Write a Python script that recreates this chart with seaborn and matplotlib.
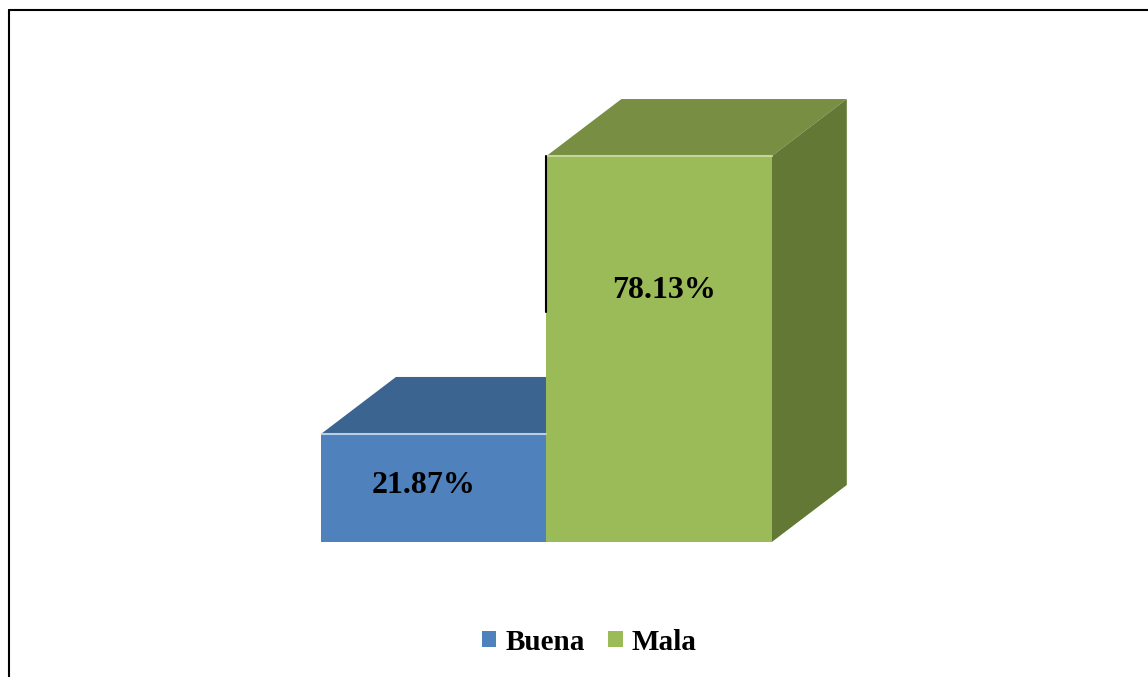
import matplotlib
matplotlib.use("Agg")
import matplotlib.pyplot as plt
from matplotlib.patches import Polygon, Patch
from matplotlib.lines import Line2D
import seaborn as sns
import pandas as pd

categories = ["Buena", "Mala"]
values = [21.87, 78.13]
labels = ["21.87%", "78.13%"]
front_colors = ["#4F81BD", "#9BBB59"]
top_colors = ["#3C6490", "#778E43"]
side_colors = ["#3A5E87", "#647836"]
edge_colors = ["#B9CDE5", "#C3D69B"]

sns.set_theme(style="white")
plt.rcParams["font.family"] = ["Liberation Serif", "DejaVu Serif"]
plt.rcParams["text.color"] = "black"

df = pd.DataFrame({"cat": categories, "val": values})

fig = plt.figure(figsize=(11.48, 6.77), dpi=100)
ax = fig.add_axes([321 / 1148, 135 / 677, 541 / 1148, 444.6 / 677])

sns.barplot(data=df, x="cat", y="val", hue="cat", palette=front_colors,
            saturation=1, width=1.0, legend=False, ax=ax, linewidth=0, zorder=2)

ax.set_xlim(-0.5, 1.9)
ax.set_ylim(0, 90)
ax.axis("off")

# depth offset of the 3D effect (data units)
dx = 75 / 225.5
dy = 57 / 4.94

label_pos = [(-0.045, 11.4), (0.02, 51.0)]
for i, v in enumerate(values):
    x0, x1 = i - 0.5, i + 0.5
    top = Polygon([(x0, v), (x1, v), (x1 + dx, v + dy), (x0 + dx, v + dy)],
                  closed=True, facecolor=top_colors[i], edgecolor="none", zorder=1)
    ax.add_patch(top)
    side = Polygon([(x1, 0), (x1 + dx, dy), (x1 + dx, v + dy), (x1, v)],
                   closed=True, facecolor=side_colors[i], edgecolor="none", zorder=1)
    ax.add_patch(side)
    ax.plot([x0, x1], [v, v], color=edge_colors[i], lw=1.5, zorder=3)
    lx, ly = label_pos[i]
    ax.text(i + lx, ly, labels[i], ha="center", va="center",
            fontsize=23, fontweight="bold", color="black", zorder=4)

# thin dark line on the left edge of the taller bar
ax.plot([0.5, 0.5], [46.6, values[1]], color="black", lw=1.5, zorder=3)

handles = [Patch(facecolor=c, edgecolor="none") for c in front_colors]
fig.legend(handles, categories, loc="center", bbox_to_anchor=(589 / 1148, 1 - 642 / 677),
           ncol=2, frameon=False, handlelength=0.5, handleheight=0.5,
           handletextpad=0.3, columnspacing=0.8, labelcolor="black",
           prop={"family": "Liberation Serif", "weight": "bold", "size": 21})

# figure border (left and top)
fig.add_artist(Line2D([8.5 / 1148, 8.5 / 1148], [0, 1 - 9.5 / 677], color="black", lw=1.5))
fig.add_artist(Line2D([8.5 / 1148, 1], [1 - 9.5 / 677, 1 - 9.5 / 677], color="black", lw=1.5))

fig.savefig("out.png", dpi=100)
